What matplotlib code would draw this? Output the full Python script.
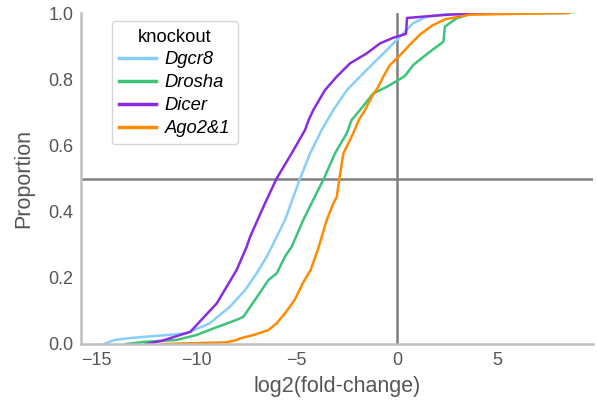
import matplotlib
matplotlib.use("Agg")
import matplotlib.pyplot as plt

plt.rcParams["font.family"] = ["Liberation Sans", "DejaVu Sans"]

# 曲線ごとの (log2 fold-change, 累積割合) を画像から読み取った値
dgcr8_x = [-14.6, -14.1, -13.3, -11.5, -10.5, -9.32, -8.32, -7.57, -6.99, -6.49, -6.24, -5.58,
           -4.83, -4.33, -3.75, -3.17, -2.5, -1.51, -0.51, 0.15, 0.8, 1.48, 2.48, 4.0]
dgcr8_p = [0.0, 0.012, 0.018, 0.027, 0.032, 0.063, 0.113, 0.163, 0.214, 0.264, 0.294, 0.375,
           0.5, 0.576, 0.647, 0.707, 0.767, 0.828, 0.888, 0.928, 0.969, 0.989, 0.997, 1.0]

drosha_x = [-13.5, -12.5, -11.0, -10.0, -9.15, -7.99, -7.66, -7.08, -6.41, -5.99, -5.58, -5.25,
            -4.67, -4.09, -3.64, -3.09, -2.5, -2.26, -1.84, -1.18, -0.51, 0.0, 0.4, 0.81, 1.64,
            2.31, 2.39, 2.97, 3.64, 8.3]
drosha_p = [0.0, 0.007, 0.012, 0.027, 0.047, 0.073, 0.082, 0.133, 0.193, 0.214, 0.264, 0.294,
            0.375, 0.446, 0.5, 0.576, 0.637, 0.677, 0.707, 0.757, 0.777, 0.795, 0.81, 0.843, 0.883,
            0.913, 0.959, 0.984, 0.997, 1.0]

dicer_x = [-12.5, -11.7, -10.3, -8.98, -7.99, -7.49, -7.32, -6.58, -6.0, -5.25, -4.58, -4.4,
           -4.17, -3.59, -3.0, -2.34, -1.51, -0.85, -0.2, 0.45, 0.5, 1.5, 2.6, 5.0]
dicer_p = [0.0, 0.01, 0.037, 0.123, 0.224, 0.294, 0.324, 0.425, 0.5, 0.576, 0.647, 0.677,
           0.707, 0.767, 0.808, 0.848, 0.878, 0.908, 0.925, 0.937, 0.985, 0.99, 0.995, 1.0]

ago_x = [-11.7, -8.5, -8.0, -7.82, -7.16, -6.41, -5.99, -5.58, -5.1, -4.7, -4.3, -3.95, -3.75,
         -3.5, -3.17, -3.0, -2.87, -2.67, -2.18, -1.9, -1.59, -1.26, -0.93, -0.68, -0.35, 0.15,
         0.65, 1.15, 1.75, 2.4, 3.64, 8.6]
ago_p = [0.0, 0.005, 0.012, 0.017, 0.027, 0.042, 0.063, 0.093, 0.133, 0.183, 0.224, 0.284, 0.324,
         0.375, 0.425, 0.445, 0.5, 0.576, 0.637, 0.677, 0.707, 0.747, 0.777, 0.808, 0.843, 0.872,
         0.905, 0.935, 0.962, 0.981, 0.995, 1.0]

labels = ["Dgcr8", "Drosha", "Dicer", "Ago2&1"]
colors = ["#87cefa", "#3cc47a", "#8a2be2", "#ff8c00"]
series = [(dgcr8_x, dgcr8_p), (drosha_x, drosha_p), (dicer_x, dicer_p), (ago_x, ago_p)]

fig = plt.figure(figsize=(5.97, 4.0), dpi=100)
ax = fig.add_axes([81 / 597, 56 / 400, 512 / 597, 331 / 400])

ax.axhline(0.5, color="#808080", lw=1.8, zorder=1)
ax.axvline(0, color="#808080", lw=1.8, zorder=1)

for (xs, ps), lab, c in zip(series, labels, colors):
    ax.plot(xs, ps, color=c, lw=1.8, label=lab, zorder=2)

ax.set_xlim(-15.75, 9.77)
ax.set_ylim(0, 1)
ax.set_xticks([-15, -10, -5, 0, 5])
ax.set_yticks([0, 0.2, 0.4, 0.6, 0.8, 1.0])
ax.set_xticklabels(["\u221215", "\u221210", "\u22125", "0", "5"])
ax.set_yticklabels(["0.0", "0.2", "0.4", "0.6", "0.8", "1.0"])
ax.tick_params(length=0, pad=5.5, labelsize=13, labelcolor="#555555")

for s in ["top", "right"]:
    ax.spines[s].set_visible(False)
for s in ["left", "bottom"]:
    ax.spines[s].set_color("#bfbfbf")
    ax.spines[s].set_linewidth(1.8)

ax.set_xlabel("log2(fold-change)", fontsize=15.5, color="#555555", labelpad=5)
ax.set_ylabel("Proportion", fontsize=15.5, color="#555555", labelpad=10)

leg = ax.legend(title="knockout", loc="upper left", bbox_to_anchor=(0.06, 0.975),
                borderaxespad=0, fontsize=13.2, title_fontsize=13.2, handlelength=2.0,
                handletextpad=0.5, labelspacing=0.32, borderpad=0.4,
                frameon=True, fancybox=True)
for t in leg.get_texts():
    t.set_fontstyle("italic")
leg.get_frame().set_edgecolor("#cccccc")
for h in leg.get_lines():
    h.set_linewidth(2.5)

fig.savefig("out.png", dpi=100)
